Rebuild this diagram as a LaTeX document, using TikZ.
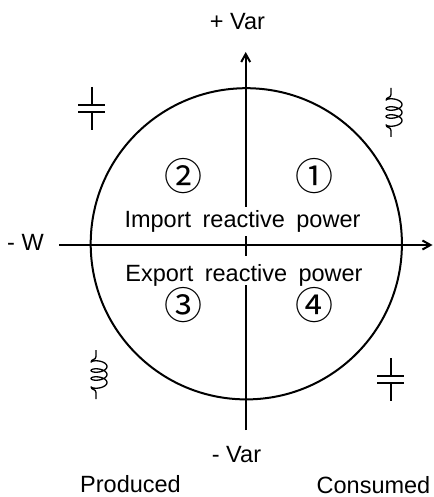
\documentclass[tikz,border=0pt]{standalone}
\usepackage{fontspec}
\setmainfont{Liberation Sans}
\newfontfamily\symfont{Noto Sans CJK JP}
\usetikzlibrary{arrows.meta}
\tikzset{
 x=1pt,y=-1pt,
 axis/.style={line width=2pt,-{Straight Barb[length=8pt,width=9pt,line width=2pt]}},
 wire/.style={line width=2pt},
 coil/.style={line width=1.3pt},
 lbl/.style={font=\fontsize{23.5}{26}\selectfont,inner sep=0pt,anchor=base},
 band/.style={lbl,fill=white,inner xsep=0pt,inner ysep=0pt},
 num/.style={font=\symfont\fontsize{38}{42}\selectfont,inner sep=0pt,anchor=center},
}
\newcommand{\capsym}[2]{%
 \begin{scope}[shift={(#1,#2)}]
 \draw[wire] (0,-21.5)--(0,-3.5) (-13.5,-3.5)--(13.5,-3.5) (-13.5,3.5)--(13.5,3.5) (0,3.5)--(0,21.5);
 \end{scope}}
\newcommand{\indsym}[2]{%
 \begin{scope}[shift={(#1,#2)}]
 \draw[coil] (0,-24.5)--(0,-18) .. controls (0,-14) and (-5,-16) .. (-5,-12)
  plot[smooth,domain=180:1260,samples=73,variable=\t] ({3+8*cos(\t)},{8*(\t-180)/360-12+3.5*sin(\t)})
  .. controls (-5,16) and (0,14) .. (0,18) -- (0,24.5);
 \end{scope}}
\begin{document}
\begin{tikzpicture}
\useasboundingbox (0,0) rectangle (433,497);
\coordinate (c) at (246.3,243.8);
\coordinate (top) at (245.7,52);
\coordinate (bot) at (245.7,430);
\coordinate (lft) at (59,245);
\coordinate (rgt) at (432.5,245);
\draw[line width=2pt] (c) circle (155.6);
\draw[axis] (bot) -- (top);
\draw[axis] (lft) -- (rgt);
\node[lbl] (pv) at (237.5,30) {+ Var};
\node[lbl] (mw) at (25.5,250) {- W};
\node[lbl] (mv) at (236.5,462) {- Var};
\node[lbl] (prod) at (130.5,492) {Produced};
\node[lbl] (cons) at (373.5,493.5) {Consumed};
\node[band,text height=20pt,text depth=9pt] (imp) at (242.5,227) {\spaceskip=11.5pt Import reactive power};
\node[band,text height=25pt,text depth=4pt] (exp) at (244,281) {\spaceskip=11.5pt Export reactive power};
\node[num] (q1) at (314.5,176.5) {①};
\node[num] (q2) at (183,176.5) {②};
\node[num] (q3) at (183,305) {③};
\node[num] (q4) at (314.5,305) {④};
\capsym{91.5}{108.5}
\capsym{390.5}{379.5}
\indsym{391}{112.5}
\indsym{96}{374.5}
\end{tikzpicture}
\end{document}
